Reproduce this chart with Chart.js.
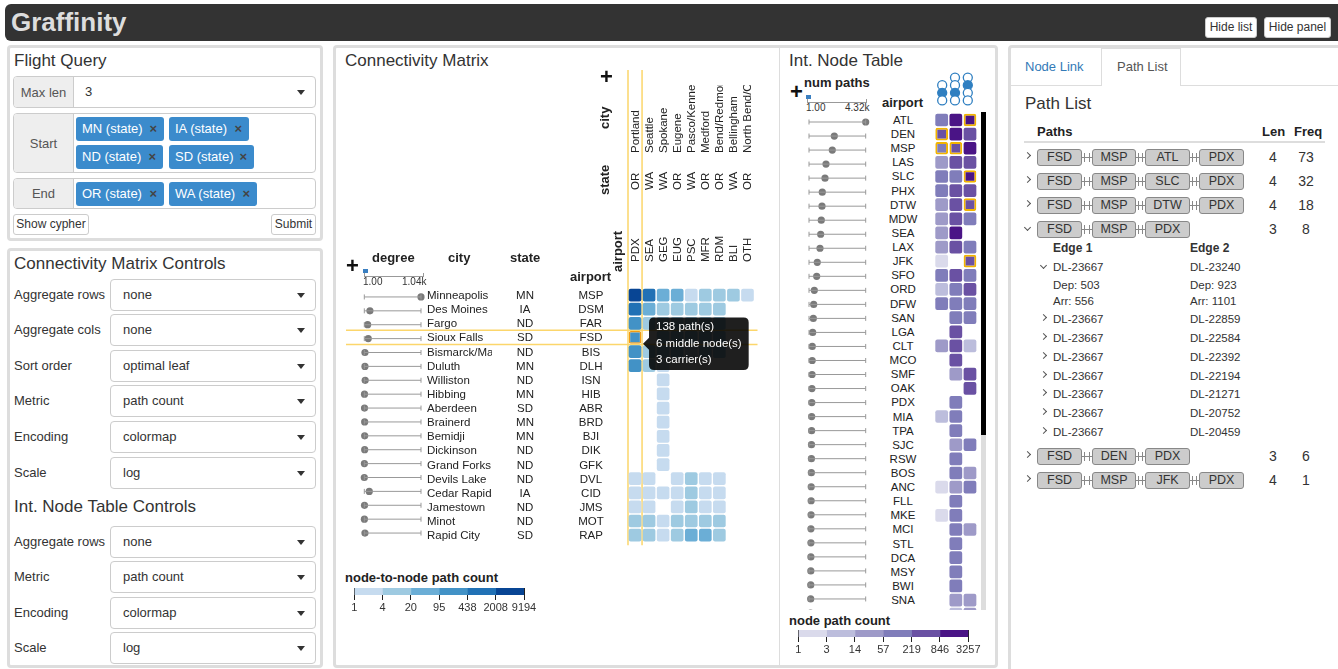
<!DOCTYPE html>
<html lang="en">
<head>
<meta charset="UTF-8" />
<title>Graffinity</title>
<script src="https://cdn.jsdelivr.net/npm/chart.js"></script>
<style>
  body { margin: 0; width: 1338px; height: 669px; overflow: hidden; position: relative; background: #fff;
         font-family: "Liberation Sans", Arial, sans-serif; font-size: 13px; color: #333; }
  .a { position: absolute; white-space: nowrap; }
  .panel { position: absolute; border: 3px solid #ddd; border-radius: 4px; box-sizing: border-box; }
  .ttl { position: absolute; font-size: 17px; line-height: 20px; color: #333; white-space: nowrap; }
  .btn { position: absolute; background: #fff; border: 1px solid #ccc; border-radius: 3px; box-sizing: border-box;
         font-size: 12px; text-align: center; color: #333; }
  .grp { position: absolute; left: 13px; width: 303px; border: 1px solid #ccc; border-radius: 4px; box-sizing: border-box; overflow: hidden; }
  .grp .lab { position: absolute; left: 0; top: 0; bottom: 0; width: 59px; background: #eee; border-right: 1px solid #ccc;
              display: flex; align-items: center; justify-content: center; color: #555; }
  .tag { position: absolute; height: 24px; line-height: 24px; background: #3b8bcc; color: #fff; border-radius: 3px;
         padding-left: 6px; box-sizing: border-box; white-space: nowrap; }
  .tag i { font-style: normal; color: #444; font-weight: bold; position: absolute; right: 7px; }
  .sel { position: absolute; left: 110px; width: 206px; height: 32px; line-height: 30px; border: 1px solid #ccc;
         border-radius: 4px; box-sizing: border-box; padding-left: 12px; }
  .caret { position: absolute; right: 10px; top: 13px; width: 0; height: 0; border-top: 5px solid #333;
           border-left: 4px solid transparent; border-right: 4px solid transparent; }
  .hd { position: absolute; font-weight: bold; font-size: 13px; white-space: nowrap; color: #222; }
  .plus { position: absolute; font-weight: bold; font-size: 22px; line-height: 20px; color: #111; }
  .vert { position: absolute; writing-mode: vertical-rl; transform: rotate(180deg); white-space: nowrap; overflow: hidden; color: #222; }
  .node { position: absolute; height: 17px; line-height: 15px; background: #ccc; border: 1px solid #888; border-radius: 3px;
          box-sizing: border-box; text-align: center; font-size: 12.5px; color: #333; }
  .link { position: absolute; height: 1px; background: #888; }
  .chev { position: absolute; width: 4px; height: 4px; border-right: 1px solid #555; border-bottom: 1px solid #555; }
  .axisbar { position: absolute; height: 4px; border: 1px solid #999; border-bottom: none; box-sizing: border-box; }
  canvas { position: absolute; }
</style>
</head>
<body>
<!-- top bar -->
<div class="a" style="left:5px;top:4px;width:1345px;height:37px;background:#333;border-radius:6px"></div>
<div class="a" style="left:11px;top:7px;font-size:26px;line-height:30px;font-weight:bold;color:#ddd">Graffinity</div>
<div class="btn" style="left:1205px;top:17px;width:52px;height:21px;line-height:19px">Hide list</div>
<div class="btn" style="left:1264px;top:17px;width:67px;height:21px;line-height:19px">Hide panel</div>

<!-- flight query -->
<div class="panel" style="left:7px;top:45px;width:316px;height:196px"></div>
<div class="ttl" style="left:14px;top:51px">Flight Query</div>
<div class="grp" style="top:76px;height:32px"><div class="lab">Max len</div><span class="a" style="left:71px;top:7px">3</span><div class="caret"></div></div>
<div class="grp" style="top:113px;height:60px"><div class="lab">Start</div></div>
<div class="grp" style="top:178px;height:31px"><div class="lab">End</div></div>
<div class="tag" style="left:76px;top:117px;width:88px">MN (state)<i>×</i></div>
<div class="tag" style="left:169px;top:117px;width:80px">IA (state)<i>×</i></div>
<div class="tag" style="left:76px;top:145px;width:87px">ND (state)<i>×</i></div>
<div class="tag" style="left:169px;top:145px;width:85px">SD (state)<i>×</i></div>
<div class="tag" style="left:76px;top:182px;width:88px">OR (state)<i>×</i></div>
<div class="tag" style="left:169px;top:182px;width:88px">WA (state)<i>×</i></div>
<div class="btn" style="left:13px;top:214px;width:76px;height:21px;line-height:19px">Show cypher</div>
<div class="btn" style="left:271px;top:214px;width:45px;height:21px;line-height:19px">Submit</div>

<!-- controls -->
<div class="panel" style="left:7px;top:248px;width:316px;height:420px"></div>
<div class="ttl" style="left:14px;top:254px">Connectivity Matrix Controls</div>
<div class="ttl" style="left:14px;top:497px">Int. Node Table Controls</div>
<div id="controls"></div>

<!-- middle panel -->
<div class="panel" style="left:333px;top:45px;width:665px;height:623px"></div>
<div class="a" style="left:779px;top:48px;width:1px;height:617px;background:#ddd"></div>
<div class="ttl" style="left:345px;top:51px">Connectivity Matrix</div>
<div class="ttl" style="left:789px;top:51px">Int. Node Table</div>

<canvas id="matrixHeat" width="420" height="485" style="left:340px;top:65px"></canvas>
<canvas id="degreeLolli" width="75" height="260" style="left:355px;top:285px"></canvas>

<div class="plus" style="left:600px;top:67px">+</div>
<div class="vert hd" style="left:598px;top:95px;width:14px;height:46px;line-height:14px;text-align:center">city</div>
<div class="vert hd" style="left:598px;top:160px;width:14px;height:40px;line-height:14px;text-align:center">state</div>
<div class="vert hd" style="left:611px;top:226px;width:14px;height:50px;line-height:14px;text-align:center">airport</div>
<div class="plus" style="left:346px;top:256px">+</div>
<div class="hd" style="left:372px;top:250px">degree</div>
<div class="hd" style="left:448px;top:250px">city</div>
<div class="hd" style="left:510px;top:250px">state</div>
<div class="hd" style="left:570px;top:269px">airport</div>
<div class="a" style="left:363px;top:269px;width:5px;height:4px;background:#3a7fc1"></div>
<div class="axisbar" style="left:364px;top:273px;width:60px;transform:scaleY(-1)"></div>
<div class="a" style="left:363px;top:276px;font-size:10px;line-height:12px">1.00</div>
<div class="a" style="left:402px;top:276px;font-size:10px;line-height:12px">1.04k</div>
<div id="matrixLabels"></div>

<div class="hd" style="left:345px;top:570px">node-to-node path count</div>
<canvas id="matrixLegend" width="200" height="28" style="left:340px;top:584px"></canvas>

<!-- node table -->
<div class="plus" style="left:790px;top:82px">+</div>
<div class="hd" style="left:804px;top:75px">num paths</div>
<div class="hd" style="left:882px;top:95px">airport</div>
<div class="a" style="left:806px;top:95px;width:5px;height:4px;background:#3a7fc1"></div>
<div class="axisbar" style="left:807px;top:99px;width:60px;transform:scaleY(-1)"></div>
<div class="a" style="left:806px;top:102px;font-size:10px;line-height:12px">1.00</div>
<div class="a" style="left:845px;top:102px;font-size:10px;line-height:12px">4.32k</div>
<canvas id="nodeGlyphs" width="50" height="42" style="left:930px;top:68px"></canvas>
<div id="nodeClip" class="a" style="left:795px;top:110px;width:185px;height:500px;overflow:hidden">
  <canvas id="nodeLolli" width="75" height="515" style="left:5px;top:0px"></canvas>
  <canvas id="nodeHeat" width="50" height="515" style="left:135px;top:0px"></canvas>
</div>
<div class="a" style="left:981px;top:112px;width:5px;height:498px;background:#ddd"></div>
<div class="a" style="left:981px;top:112px;width:5px;height:323px;background:#000"></div>
<div class="hd" style="left:789px;top:613px">node path count</div>
<canvas id="nodeLegend" width="200" height="28" style="left:784px;top:626px"></canvas>

<!-- right panel -->
<div class="panel" style="left:1008px;top:45px;width:340px;height:630px"></div>
<div class="a" style="left:1011px;top:85px;width:330px;height:1px;background:#ddd"></div>
<div class="a" style="left:1101px;top:48px;width:80px;height:38px;border:1px solid #ddd;border-bottom:none;background:#fff;box-sizing:border-box"></div>
<div class="a" style="left:1025px;top:59px;color:#337ab7;line-height:16px">Node Link</div>
<div class="a" style="left:1117px;top:59px;color:#555;line-height:16px">Path List</div>
<div class="ttl" style="left:1025px;top:94px">Path List</div>
<div class="hd" style="left:1037px;top:124px">Paths</div>
<div class="hd" style="left:1262px;top:124px">Len</div>
<div class="hd" style="left:1294px;top:124px">Freq</div>
<div class="a" style="left:1024px;top:141px;width:301px;height:2px;background:#ddd"></div>
<div id="pathList"></div>

<script>
// ---- matrix data ----
const colAirports = ["PDX", "SEA", "GEG", "EUG", "PSC", "MFR", "RDM", "BLI", "OTH"];
const colCities = ["Portland", "Seattle", "Spokane", "Eugene", "Pasco/Kennewick", "Medford", "Bend/Redmond", "Bellingham", "North Bend/Coos Bay"];
const colStates = ["OR", "WA", "WA", "OR", "WA", "OR", "OR", "WA", "OR"];
const rowAirports = ["MSP", "DSM", "FAR", "FSD", "BIS", "DLH", "ISN", "HIB", "ABR", "BRD", "BJI", "DIK", "GFK", "DVL", "CID", "JMS", "MOT", "RAP"];
const rowCities = ["Minneapolis", "Des Moines", "Fargo", "Sioux Falls", "Bismarck/Mandan", "Duluth", "Williston", "Hibbing", "Aberdeen",
  "Brainerd", "Bemidji", "Dickinson", "Grand Forks", "Devils Lake", "Cedar Rapids", "Jamestown", "Minot", "Rapid City"];
const rowStates = ["MN", "IA", "ND", "SD", "ND", "MN", "ND", "MN", "SD", "MN", "MN", "ND", "ND", "ND", "IA", "ND", "ND", "SD"];
const rowDegree = [1040, 104, 62, 73, 13, 13, 17, 5, 5, 8, 8, 8, 3, 1, 92, 5, 3, 13];
const pathCounts = [
  [9194, 1500, 60, 45, 3, 12, 10, 8, 2],
  [1200, 30, 10, 9, 8, 8, 10, null, null],
  [320, 8, 6, 5, 4, 5, 6, null, null],
  [138, null, 5, 4, 4, 5, 5, null, null],
  [250, 8, 5, 4, 3, 4, 4, null, null],
  [150, 8, 2, null, null, null, null, null, null],
  [null, null, 2, null, null, null, null, null, null],
  [null, null, 2, null, null, null, null, null, null],
  [null, null, 2, null, null, null, null, null, null],
  [null, null, 2, null, null, null, null, null, null],
  [null, null, 2, null, null, null, null, null, null],
  [null, null, 2, null, null, null, null, null, null],
  [null, null, 2, null, null, null, null, null, null],
  [2, 2, null, 2, 6, 2, 2, null, null],
  [2, 3, 2, 2, 7, 2, 3, null, null],
  [2, 2, null, 2, 6, 2, 2, null, null],
  [8, 7, 2, 6, 8, 6, 7, null, null],
  [10, 9, 3, 8, 30, 28, 9, null, null]
];
const matrixBreaks = [1, 4, 20, 95, 438, 2008, 9194];
const blues = ["#c6dbef", "#9ecae1", "#6baed6", "#4292c6", "#2171b5", "#084594"];
const matrixMarked = [[3, 0]];
const tipMiddleNodes = 6;
const tipCarriers = 3;

// ---- intermediate node table data ----
const nodeAirports = ["ATL", "DEN", "MSP", "LAS", "SLC", "PHX", "DTW", "MDW", "SEA", "LAX", "JFK", "SFO", "ORD", "DFW", "SAN", "LGA",
  "CLT", "MCO", "SMF", "OAK", "PDX", "MIA", "TPA", "SJC", "RSW", "BOS", "ANC", "FLL", "MKE", "MCI", "STL", "DCA", "MSY", "BWI", "SNA", "EWR"];
const nodeNumPaths = [4320, 1928, 1775, 1295, 1219, 1013, 990, 937, 890, 838, 632, 586, 405, 358, 330, 280,
  251, 245, 235, 225, 215, 205, 200, 190, 185, 180, 170, 165, 160, 150, 148, 145, 140, 135, 130, 120];
const nodeCounts = [
  [120, 2300, 1900], [300, 1300, 328], [150, 600, 1025], [40, 700, 555], [100, 150, 969], [120, 500, 393],
  [45, 545, 400], [50, 700, 187], [30, 860, null], [40, 600, 198], [2, null, 630], [80, 350, 156],
  [8, 100, 297], [100, 150, 108], [null, 180, 150], [null, 280, null], [20, 225, 6], [null, 245, null],
  [null, 15, 220], [null, null, 225], [null, 215, null], [5, 200, null], [null, 200, null], [null, 40, 150],
  [null, 185, null], [null, 150, 30], [2, 30, 138], [null, 165, null], [2, 158, null], [null, 120, 30],
  [null, 148, null], [null, 145, null], [null, 140, null], [null, 135, null], [null, 50, 45], [null, 12, 30]
];
const nodeBreaks = [1, 3, 14, 57, 219, 846, 3257];
const purples = ["#dadaeb", "#bcbddc", "#9e9ac8", "#807dba", "#6a51a3", "#4a1486"];
const nodeMarked = [[0, 2], [1, 0], [2, 0], [2, 1], [4, 2], [6, 2], [10, 2]];
const glyphLen = [3, 4, 4];   // nodes in the path type of each column
const glyphPos = [2, 3, 2];   // position of the intermediate node

// ---- path list data ----
const paths = [["FSD", "MSP", "ATL", "PDX"], ["FSD", "MSP", "SLC", "PDX"], ["FSD", "MSP", "DTW", "PDX"],
  ["FSD", "MSP", "PDX"], ["FSD", "DEN", "PDX"], ["FSD", "MSP", "JFK", "PDX"]];
const pathFreq = [73, 32, 18, 8, 6, 1];
const edge1Flights = ["DL-23667", "DL-23667", "DL-23667", "DL-23667", "DL-23667", "DL-23667", "DL-23667", "DL-23667"];
const edge2Flights = ["DL-23240", "DL-22859", "DL-22584", "DL-22392", "DL-22194", "DL-21271", "DL-20752", "DL-20459"];
const openDep = [503, 923];
const openArr = [556, 1101];

const matrixControls = [["Aggregate rows", "none"], ["Aggregate cols", "none"], ["Sort order", "optimal leaf"],
  ["Metric", "path count"], ["Encoding", "colormap"], ["Scale", "log"]];
const nodeControls = [["Aggregate rows", "none"], ["Metric", "path count"], ["Encoding", "colormap"], ["Scale", "log"]];

Chart.defaults.font.family = '"Liberation Sans", Arial, sans-serif';
Chart.defaults.color = '#333';

function binColor(v, breaks, colors) {
  let k = 0;
  while (k < colors.length - 1 && v >= breaks[k + 1]) k++;
  return colors[k];
}

function isMarked(list, r, c) {
  return list.some(m => m[0] === r && m[1] === c);
}

function heatDatasets(counts, breaks, colors, marked, markColor, markWidth) {
  return counts.map((row, r) => ({
    data: row.map(v => v == null ? null : [r - 0.45, r + 0.45]),
    backgroundColor: row.map(v => v == null ? 'rgba(0,0,0,0)' : binColor(v, breaks, colors)),
    borderColor: row.map((v, c) => isMarked(marked, r, c) ? markColor : 'rgba(0,0,0,0)'),
    borderWidth: row.map((v, c) => isMarked(marked, r, c) ? markWidth : 0),
    borderSkipped: false,
    borderRadius: 2,
    barPercentage: 0.9,
    categoryPercentage: 1,
    grouped: false
  }));
}

function el(parent, cls, text, css) {
  const d = document.createElement('div');
  if (cls) d.className = cls;
  if (text != null) d.textContent = text;
  d.style.cssText += 'position:absolute;white-space:nowrap;' + css;
  parent.appendChild(d);
  return d;
}

// highlight row / column of the selected cell
const crossHair = {
  id: 'crossHair',
  beforeDatasetsDraw(chart, args, opts) {
    const { ctx, chartArea, scales: { x, y } } = chart;
    const halfW = (x.getPixelForValue(1) - x.getPixelForValue(0)) / 2;
    const halfH = Math.abs(y.getPixelForValue(opts.row + 0.5) - y.getPixelForValue(opts.row));
    const cx = x.getPixelForValue(opts.col);
    const cy = y.getPixelForValue(opts.row);
    ctx.save();
    ctx.strokeStyle = opts.color;
    ctx.lineWidth = 1.5;
    ctx.beginPath();
    [cx - halfW, cx + halfW].forEach(px => { ctx.moveTo(px, opts.top); ctx.lineTo(px, chartArea.bottom + 3); });
    [cy - halfH, cy + halfH].forEach(py => { ctx.moveTo(opts.left, py); ctx.lineTo(chartArea.right + 3, py); });
    ctx.stroke();
    ctx.restore();
  }
};

const matrixHeat = new Chart(document.getElementById('matrixHeat'), {
  type: 'bar',
  data: { labels: colAirports, datasets: heatDatasets(pathCounts, matrixBreaks, blues, matrixMarked, '#f39c12', 1.5) },
  options: {
    responsive: false, animation: false, events: [],
    layout: { padding: { left: 288, right: 5.5, top: 223, bottom: 7.8 } },
    scales: {
      x: { display: false, offset: true },
      y: { display: false, min: -0.5, max: rowAirports.length - 0.5, reverse: true }
    },
    plugins: {
      legend: { display: false },
      crossHair: { row: 3, col: 0, color: '#fcd66b', top: 5, left: 6 },
      tooltip: {
        xAlign: 'left', yAlign: 'center',
        caretSize: 6, caretPadding: 8, cornerRadius: 5,
        backgroundColor: 'rgba(0,0,0,0.88)',
        bodyColor: '#fff',
        bodyFont: { size: 11.5, lineHeight: 1.435 },
        bodySpacing: 0,
        padding: { x: 7, y: 1.5 },
        displayColors: false,
        callbacks: {
          title: () => '',
          label: c => [pathCounts[c.datasetIndex][c.dataIndex] + ' path(s)', tipMiddleNodes + ' middle node(s)', tipCarriers + ' carrier(s)']
        }
      }
    }
  },
  plugins: [crossHair]
});
matrixHeat.tooltip.setActiveElements([{ datasetIndex: 3, index: 0 }], { x: 0, y: 0 });
matrixHeat.update();

function lollipop(id, values, max, pad) {
  const tracks = values.map((v, r) => ({
    showLine: true, data: [{ x: 1, y: r }, { x: max, y: r }],
    borderColor: '#999', borderWidth: 1, pointRadius: 0, clip: false
  }));
  const ends = {
    data: values.flatMap((v, r) => [{ x: 1, y: r }, { x: max, y: r }]),
    pointStyle: 'line', rotation: 90, pointRadius: 2.5, borderColor: '#999', borderWidth: 1, clip: false
  };
  const dots = {
    data: values.map((v, r) => ({ x: v, y: r })),
    pointRadius: 3.6, backgroundColor: '#7a7a7a', borderWidth: 0, clip: false
  };
  return new Chart(document.getElementById(id), {
    type: 'scatter',
    data: { datasets: [...tracks, ends, dots] },
    options: {
      responsive: false, animation: false, events: [],
      layout: { padding: pad },
      scales: {
        x: { type: 'linear', display: false, min: 1, max: max },
        y: { type: 'linear', display: false, min: -0.5, max: values.length - 0.5, reverse: true }
      },
      plugins: { legend: { display: false }, tooltip: { enabled: false } }
    }
  });
}

lollipop('degreeLolli', rowDegree, 1040, { left: 9.3, right: 9, top: 3, bottom: 2.8 });
lollipop('nodeLolli', nodeNumPaths, 4320, { left: 9, right: 9.3, top: 2.94, bottom: 515 - 2.94 - nodeAirports.length * 14.12 });

const nodeHeat = new Chart(document.getElementById('nodeHeat'), {
  type: 'bar',
  data: { labels: ['len3', 'len4a', 'len4b'], datasets: heatDatasets(nodeCounts, nodeBreaks, purples, nodeMarked, '#f2b400', 2) },
  options: {
    responsive: false, animation: false, events: [],
    layout: { padding: { left: 4.6, right: 2.95, top: 2.94, bottom: 515 - 2.94 - nodeAirports.length * 14.12 } },
    scales: {
      x: { display: false, offset: true },
      y: { display: false, min: -0.5, max: nodeAirports.length - 0.5, reverse: true }
    },
    plugins: { legend: { display: false }, tooltip: { enabled: false } }
  }
});

// path-type glyphs above the node table columns
const glyphPts = glyphLen.flatMap((n, c) => Array.from({ length: n }, (_, k) => ({ x: c, y: 4 - n + k, on: k + 1 === glyphPos[c] })));
new Chart(document.getElementById('nodeGlyphs'), {
  type: 'scatter',
  data: { datasets: [{
    data: glyphPts,
    pointRadius: 4.5, borderWidth: 1.3, borderColor: '#2f7fc1',
    backgroundColor: glyphPts.map(p => p.on ? '#2f7fc1' : '#fff'), clip: false
  }] },
  options: {
    responsive: false, animation: false, events: [],
    layout: { padding: { left: 4.6, right: 2.95, top: 2.25, bottom: 1.75 } },
    scales: {
      x: { type: 'linear', display: false, min: -0.5, max: 2.5 },
      y: { type: 'linear', display: false, min: -0.5, max: 3.5, reverse: true }
    },
    plugins: { legend: { display: false }, tooltip: { enabled: false } }
  }
});

function colorLegend(id, ticks, colors, pad) {
  return new Chart(document.getElementById(id), {
    type: 'bar',
    data: {
      labels: [''],
      datasets: colors.map(c => ({ data: [1], backgroundColor: c, barPercentage: 1, categoryPercentage: 1 }))
    },
    options: {
      indexAxis: 'y', responsive: false, animation: false, events: [],
      layout: { padding: pad },
      scales: {
        x: {
          stacked: true, min: 0, max: colors.length, z: 1,
          border: { display: false },
          grid: { color: '#222', lineWidth: 1, drawOnChartArea: true, tickLength: 5 },
          ticks: { stepSize: 1, padding: 1, font: { size: 11 }, color: '#333', maxRotation: 0, callback: v => ticks[v] },
          afterFit: s => { s.height = 17; }
        },
        y: { stacked: true, display: false }
      },
      plugins: { legend: { display: false }, tooltip: { enabled: false } }
    }
  });
}
colorLegend('matrixLegend', matrixBreaks, blues, { left: 14.3, right: 16, top: 4, bottom: 0 });
colorLegend('nodeLegend', nodeBreaks, purples, { left: 14.3, right: 15.7, top: 4, bottom: 0 });

// ---- labels positioned from the chart scales ----
const body = document.body;
const mLab = document.getElementById('matrixLabels');
rowAirports.forEach((a, r) => {
  const py = 65 + matrixHeat.scales.y.getPixelForValue(r);
  const css = `top:${py - 7}px;height:14px;line-height:14px;font-size:11.5px;color:#222;`;
  el(mLab, '', rowCities[r], css + 'left:427px;width:65px;overflow:hidden;');
  el(mLab, '', rowStates[r], css + 'left:505px;width:40px;text-align:center;');
  el(mLab, '', a, css + 'left:566px;width:50px;text-align:center;');
});
colAirports.forEach((a, c) => {
  const px = 340 + matrixHeat.scales.x.getPixelForValue(c);
  [[colCities[c], 153, 68], [colStates[c], 190, 32], [a, 262, 34]].forEach(([t, bottom, h]) => {
    el(body, 'vert', t, `left:${px - 7}px;top:${bottom - h}px;width:14px;height:${h}px;line-height:14px;font-size:11.5px;`);
  });
});
const nClip = document.getElementById('nodeClip');
nodeAirports.forEach((a, r) => {
  const py = nodeHeat.scales.y.getPixelForValue(r);
  el(nClip, '', a, `top:${py - 7}px;left:83px;width:50px;height:14px;line-height:14px;text-align:center;font-size:11.5px;color:#222;`);
});

// ---- control rows ----
const ctl = document.getElementById('controls');
function controlRows(list, centers) {
  list.forEach(([label, value], i) => {
    const cy = centers[i];
    el(ctl, '', label, `left:14px;top:${cy - 8}px;line-height:16px;`);
    const s = el(ctl, 'sel', value, `top:${cy - 16}px;`);
    el(s, 'caret', null, '');
  });
}
controlRows(matrixControls, [295, 330, 366, 401, 437, 473]);
controlRows(nodeControls, [542, 577, 613, 648]);

// ---- path list ----
const pl = document.getElementById('pathList');
const slotLeft = [1037, 1092, 1145, 1199];
const slotWidth = [45, 44, 45, 45];
const pathRowY = [157, 181, 205, 229, 456, 480];
function chevron(x, cy, open) {
  el(pl, 'chev', null, `left:${x}px;top:${cy - 4}px;transform:rotate(${open ? 45 : -45}deg);`);
}
paths.forEach((p, i) => {
  const cy = pathRowY[i];
  chevron(1025, cy, i === 3);
  p.forEach((n, k) => {
    el(pl, 'node', n, `left:${slotLeft[k]}px;top:${cy - 8}px;width:${slotWidth[k]}px;`);
    if (k < p.length - 1) {
      const x0 = slotLeft[k] + slotWidth[k], x1 = slotLeft[k + 1];
      el(pl, 'link', null, `left:${x0}px;top:${cy}px;width:${x1 - x0}px;`);
      el(pl, 'link', null, `left:${x0 + 2}px;top:${cy - 4}px;width:1px;height:9px;`);
      el(pl, 'link', null, `left:${x1 - 3}px;top:${cy - 4}px;width:1px;height:9px;`);
    }
  });
  el(pl, '', String(p.length), `left:1263px;top:${cy - 8}px;width:20px;text-align:center;line-height:16px;font-size:14px;`);
  el(pl, '', String(pathFreq[i]), `left:1296px;top:${cy - 8}px;width:20px;text-align:center;line-height:16px;font-size:14px;`);
});
el(pl, '', 'Edge 1', 'left:1053px;top:240px;line-height:16px;font-size:12px;font-weight:bold;');
el(pl, '', 'Edge 2', 'left:1190px;top:240px;line-height:16px;font-size:12px;font-weight:bold;');
const flightRowY = [267, 319, 338, 357, 376, 394, 413, 432];
edge1Flights.forEach((f, i) => {
  const cy = flightRowY[i];
  chevron(1041, cy, i === 0);
  el(pl, '', f, `left:1053px;top:${cy - 8}px;line-height:16px;font-size:11.5px;`);
  el(pl, '', edge2Flights[i], `left:1190px;top:${cy - 8}px;line-height:16px;font-size:11.5px;`);
});
[0, 1].forEach(k => {
  const x = k === 0 ? 1053 : 1190;
  el(pl, '', 'Dep: ' + openDep[k], `left:${x}px;top:277px;line-height:16px;font-size:11.5px;`);
  el(pl, '', 'Arr: ' + openArr[k], `left:${x}px;top:293px;line-height:16px;font-size:11.5px;`);
});
</script>
</body>
</html>
